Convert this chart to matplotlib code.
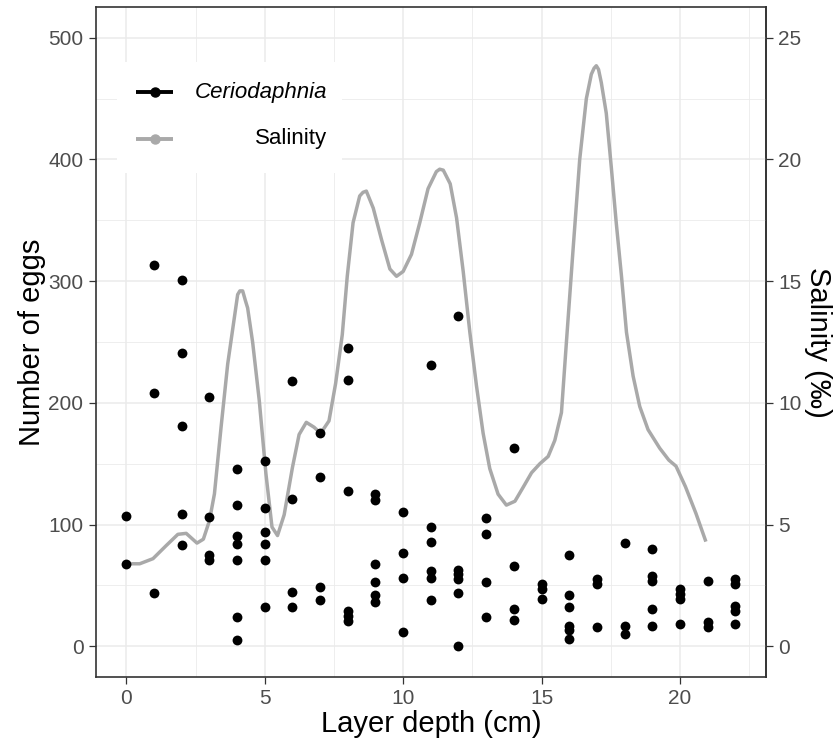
import numpy as np
import matplotlib
matplotlib.use('Agg')
import matplotlib.pyplot as plt
from matplotlib.patches import Rectangle

plt.rcParams['font.family'] = ['Liberation Sans', 'DejaVu Sans']

# egg counts per sample, grouped by layer depth (cm)
depth = ([0] * 2 + [1] * 3 + [2] * 5 + [3] * 4 + [4] * 7 + [5] * 6 + [6] * 4 + [7] * 4
         + [8] * 6 + [9] * 6 + [10] * 4 + [11] * 6 + [12] * 6 + [13] * 4 + [14] * 4
         + [15] * 3 + [16] * 6 + [17] * 3 + [18] * 3 + [19] * 5 + [20] * 4 + [21] * 3
         + [22] * 5)
eggs = [107, 68,
        313, 208, 44,
        301, 241, 181, 109, 83,
        205, 106, 75, 71,
        146, 116, 91, 84, 71, 24, 5,
        152, 114, 94, 84, 71, 32,
        218, 121, 45, 32,
        175, 139, 49, 38,
        245, 219, 128, 29, 25, 21,
        125, 120, 68, 53, 42, 36,
        110, 77, 56, 12,
        231, 98, 86, 62, 56, 38,
        271, 63, 59, 55, 44, 0,
        105, 92, 53, 24,
        163, 66, 31, 22,
        51, 47, 39,
        75, 42, 32, 17, 13, 6,
        55, 51, 16,
        85, 17, 10,
        80, 58, 54, 31, 17,
        47, 43, 39, 18,
        54, 20, 16,
        55, 51, 33, 29, 18]

# salinity profile (per mille) along depth
sal_depth = [0.0, 0.48, 0.96, 1.44, 1.86, 2.16, 2.55, 2.78, 3.0, 3.18, 3.42, 3.66, 3.9,
             4.02, 4.1, 4.2, 4.3, 4.38, 4.56, 4.8, 5.04, 5.26, 5.46, 5.7, 6.0, 6.24, 6.5,
             6.78, 7.02, 7.32, 7.56, 7.8, 7.98, 8.19, 8.43, 8.55, 8.67, 8.92, 9.22, 9.52,
             9.76, 10.0, 10.3, 10.6, 10.9, 11.2, 11.32, 11.45, 11.7, 11.93, 12.17, 12.41,
             12.65, 12.89, 13.13, 13.43, 13.73, 14.04, 14.34, 14.64, 14.94, 15.24, 15.48,
             15.72, 15.9, 16.14, 16.38, 16.62, 16.8, 16.9, 16.98, 17.06, 17.16, 17.34,
             17.52, 17.7, 17.89, 18.07, 18.31, 18.55, 18.85, 19.27, 19.6, 19.86, 20.2,
             20.58, 20.94]
salinity = [3.39, 3.39, 3.6, 4.14, 4.6, 4.64, 4.24, 4.4, 5.16, 6.26, 9.0, 11.6, 13.5,
            14.45, 14.6, 14.6, 14.2, 13.9, 12.5, 10.1, 7.1, 4.9, 4.55, 5.4, 7.35, 8.7, 9.2,
            9.0, 8.75, 9.26, 10.8, 12.8, 15.2, 17.4, 18.5, 18.65, 18.7, 18.0, 16.7, 15.5,
            15.2, 15.4, 16.1, 17.4, 18.8, 19.5, 19.6, 19.56, 19.0, 17.6, 15.4, 12.9,
            10.7, 8.75, 7.3, 6.25, 5.8, 5.96, 6.54, 7.13, 7.5, 7.8, 8.46,
            9.6, 12.5, 16.3, 20.0, 22.5, 23.5, 23.75, 23.85, 23.7, 23.16, 21.9,
            19.7, 17.4, 15.2, 12.9, 11.1, 9.85, 8.9, 8.14, 7.65, 7.4, 6.56,
            5.46, 4.3]
sal_scale = 20  # eggs axis units per salinity unit

x_major = [0, 5, 10, 15, 20]
x_minor = [2.5, 7.5, 12.5, 17.5, 22.5]
y_major = [0, 100, 200, 300, 400, 500]
y_minor = [50, 150, 250, 350, 450]
sal_ticks = [0, 5, 10, 15, 20, 25]

fig = plt.figure(figsize=(8.39, 7.48), dpi=100)
ax = fig.add_axes([0.1144, 0.0953, 0.7982, 0.8949])

ax.set_xlim(-1.1, 23.1)
ax.set_ylim(-25, 525)
ax.set_xticks(x_major)
ax.set_xticks(x_minor, minor=True)
ax.set_yticks(y_major)
ax.set_yticks(y_minor, minor=True)
ax.grid(which='major', color='#EBEBEB', lw=1.1)
ax.grid(which='minor', color='#EBEBEB', lw=0.6)
ax.set_axisbelow(True)
ax.tick_params(which='minor', length=0)
ax.tick_params(which='major', length=5, width=0.9, color='#333333',
               labelsize=15, labelcolor='#4D4D4D', pad=4)
for sp in ax.spines.values():
    sp.set_color('#333333')
    sp.set_linewidth(1.2)

ax.plot(sal_depth, np.array(salinity) * sal_scale, color='#A9A9A9', lw=2.5,
        solid_joinstyle='round', solid_capstyle='butt', zorder=2)
ax.scatter(depth, eggs, s=50, color='black', linewidths=0, zorder=3)

sec = ax.secondary_yaxis('right', functions=(lambda v: v / sal_scale, lambda s: s * sal_scale))
sec.set_yticks(sal_ticks)
sec.tick_params(length=5, width=0.9, color='#333333', labelsize=15,
                labelcolor='#4D4D4D', pad=4)
sec.spines['right'].set_color('#333333')
sec.spines['right'].set_linewidth(1.2)
sec.set_ylabel('Salinity (‰)', fontsize=21, rotation=270, labelpad=22)

ax.set_xlabel('Layer depth (cm)', fontsize=21, labelpad=1)
ax.set_ylabel('Number of eggs', fontsize=21, labelpad=2)

# legend box
ax.add_patch(Rectangle((0.031, 0.752), 0.336, 0.166, transform=ax.transAxes,
                       facecolor='white', edgecolor='none', zorder=4))
for yy, col in [(0.873, 'black'), (0.8033, '#A9A9A9')]:
    ax.plot([0.0597, 0.1154], [yy, yy], transform=ax.transAxes, color=col, lw=2.8,
            solid_capstyle='butt', zorder=5)
    ax.plot([0.0876], [yy], 'o', transform=ax.transAxes, color=col, ms=6.5, zorder=5)
ax.text(0.1468, 0.873, 'Ceriodaphnia', style='italic', fontsize=16, ha='left',
        va='center', transform=ax.transAxes, zorder=6)
ax.text(0.3457, 0.8033, 'Salinity', fontsize=16, ha='right', va='center',
        transform=ax.transAxes, zorder=6)

fig.savefig('out.png', dpi=100)
